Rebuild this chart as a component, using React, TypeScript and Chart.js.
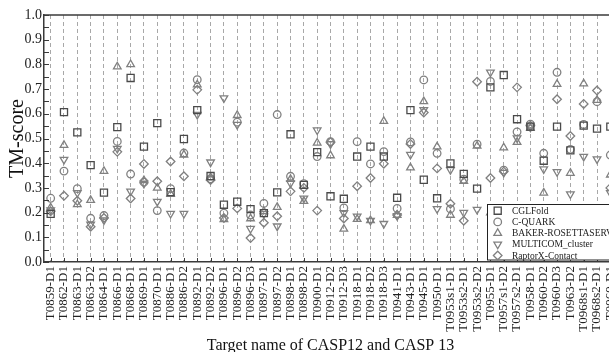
import React, { useEffect, useRef } from 'react';
import { Chart, registerables } from 'chart.js';

Chart.register(...registerables);

const categories = [
  'T0859-D1', 'T0862-D1', 'T0863-D1', 'T0863-D2', 'T0864-D1', 'T0866-D1', 'T0868-D1', 'T0869-D1',
  'T0870-D1', 'T0886-D1', 'T0886-D2', 'T0892-D1', 'T0892-D2', 'T0896-D1', 'T0896-D2', 'T0896-D3',
  'T0897-D1', 'T0897-D2', 'T0898-D1', 'T0898-D2', 'T0900-D1', 'T0912-D2', 'T0912-D3', 'T0918-D1',
  'T0918-D2', 'T0918-D3', 'T0941-D1', 'T0943-D1', 'T0945-D1', 'T0950-D1', 'T0953s1-D1', 'T0953s2-D1',
  'T0953s2-D2', 'T0955-D1', 'T0957s1-D2', 'T0957s2-D1', 'T0958-D1', 'T0960-D2', 'T0960-D3', 'T0963-D2',
  'T0968s1-D1', 'T0968s2-D1', 'T0969-D1',
];

const cglfold = [
  0.195, 0.607, 0.525, 0.392, 0.281, 0.546, 0.745, 0.467, 0.562, 0.283, 0.498, 0.615, 0.348, 0.232, 0.244,
  0.214, 0.198, 0.282, 0.517, 0.312, 0.445, 0.266, 0.256, 0.427, 0.467, 0.427, 0.26, 0.615, 0.333, 0.258,
  0.399, 0.357, 0.297, 0.707, 0.757, 0.578, 0.548, 0.41, 0.548, 0.452, 0.552, 0.54, 0.548,
];
const cquark = [
  0.258, 0.368, 0.297, 0.177, 0.188, 0.488, 0.356, 0.323, 0.208, 0.297, 0.441, 0.738, 0.337, 0.198, 0.566,
  0.19, 0.237, 0.597, 0.347, 0.317, 0.427, 0.487, 0.219, 0.487, 0.397, 0.447, 0.217, 0.486, 0.737, 0.44,
  0.215, 0.335, 0.477, 0.731, 0.372, 0.527, 0.558, 0.44, 0.768, 0.456, 0.557, 0.649, 0.433,
];
const baker = [
  0.22, 0.473, 0.233, 0.25, 0.368, 0.791, 0.8, 0.33, 0.3, 0.275, 0.434, 0.718, 0.342, 0.172, 0.594,
  0.176, 0.205, 0.222, 0.335, 0.246, 0.482, 0.431, 0.134, 0.173, 0.168, 0.57, 0.19, 0.382, 0.65, 0.467,
  0.19, 0.327, 0.47, 0.2, 0.463, 0.485, 0.542, 0.28, 0.72, 0.36, 0.722, 0.655, 0.353,
];
const multicom = [
  0.21, 0.415, 0.28, 0.152, 0.17, 0.459, 0.286, 0.318, 0.245, 0.196, 0.196, 0.597, 0.404, 0.664, 0.556,
  0.135, 0.195, 0.145, 0.319, 0.258, 0.534, 0.478, 0.199, 0.185, 0.168, 0.155, 0.187, 0.435, 0.616, 0.215,
  0.373, 0.2, 0.212, 0.768, 0.362, 0.502, 0.545, 0.376, 0.365, 0.275, 0.427, 0.417, 0.28,
];
const raptorx = [
  0.205, 0.268, 0.248, 0.143, 0.178, 0.446, 0.257, 0.397, 0.327, 0.407, 0.347, 0.697, 0.332, 0.178, 0.217,
  0.097, 0.159, 0.185, 0.286, 0.3, 0.208, 0.485, 0.176, 0.307, 0.34, 0.398, 0.19, 0.478, 0.605, 0.379,
  0.236, 0.167, 0.73, 0.34, 0.366, 0.707, 0.552, 0.2, 0.659, 0.51, 0.64, 0.694, 0.3,
];

const seriesNames = ['CGLFold', 'C-QUARK', 'BAKER-ROSETTASERVER', 'MULTICOM_cluster', 'RaptorX-Contact'];
const yTickLabels = ['0.0', '0.1', '0.2', '0.3', '0.4', '0.5', '0.6', '0.7', '0.8', '0.9', '1.0'];
const xTitle = 'Target name of CASP12 and CASP 13';
const yTitle = 'TM-score';

const SERIF = "'Liberation Serif', 'Times New Roman', serif";
const DARK = '#4a4a4a';
const GRAY = '#808080';

const styles = [
  { style: 'rect', radius: 5, rotation: 0, color: DARK },
  { style: 'circle', radius: 3.8, rotation: 0, color: GRAY },
  { style: 'triangle', radius: 4.4, rotation: 0, color: GRAY },
  { style: 'triangle', radius: 4.4, rotation: 180, color: GRAY },
  { style: 'rectRot', radius: 4.3, rotation: 0, color: GRAY },
];

function drawMarker(ctx: CanvasRenderingContext2D, style: string, x: number, y: number, r: number, rotDeg: number) {
  ctx.beginPath();
  if (style === 'circle') {
    ctx.arc(x, y, r, 0, Math.PI * 2);
  } else if (style === 'rect') {
    const s = Math.SQRT1_2 * r;
    ctx.rect(x - s, y - s, 2 * s, 2 * s);
  } else if (style === 'triangle') {
    let rad = (rotDeg * Math.PI) / 180;
    ctx.moveTo(x + Math.sin(rad) * r, y - Math.cos(rad) * r);
    rad += (2 * Math.PI) / 3;
    ctx.lineTo(x + Math.sin(rad) * r, y - Math.cos(rad) * r);
    rad += (2 * Math.PI) / 3;
    ctx.lineTo(x + Math.sin(rad) * r, y - Math.cos(rad) * r);
    ctx.closePath();
  } else if (style === 'rectRot') {
    ctx.moveTo(x - r, y);
    ctx.lineTo(x, y - r);
    ctx.lineTo(x + r, y);
    ctx.lineTo(x, y + r);
    ctx.closePath();
  }
  ctx.stroke();
}

const framePlugin = {
  id: 'frameAndLegend',
  afterDatasetsDraw(chart: any) {
    const { ctx, chartArea } = chart;
    const { left, right, top, bottom } = chartArea;
    const x = chart.scales.x;
    const y = chart.scales.y;
    ctx.save();
    // top frame line
    ctx.strokeStyle = '#3a3a3a';
    ctx.lineWidth = 1.5;
    ctx.beginPath();
    ctx.moveTo(left, top);
    ctx.lineTo(right, top);
    ctx.stroke();
    // inward ticks
    ctx.lineWidth = 1;
    ctx.strokeStyle = '#3a3a3a';
    ctx.beginPath();
    for (let k = 0; k <= 20; k++) {
      const py = Math.round(y.getPixelForValue(k * 0.05)) + 0.5;
      ctx.moveTo(left, py);
      ctx.lineTo(left + 5, py);
    }
    for (let i = 0; i < categories.length; i++) {
      const px = Math.round(x.getPixelForValue(i)) + 0.5;
      ctx.moveTo(px, bottom);
      ctx.lineTo(px, bottom - 4);
    }
    ctx.stroke();

    // legend box inside plot, bottom-right
    const bx = 487.5;
    const by = 204.5;
    const bw = right + 20 - bx;
    const bh = bottom - 2 - by;
    ctx.fillStyle = '#ffffff';
    ctx.fillRect(bx, by, bw, bh);
    ctx.strokeStyle = '#222';
    ctx.lineWidth = 1;
    ctx.strokeRect(bx, by, bw, bh);
    ctx.font = `9.5px ${SERIF}`;
    ctx.textBaseline = 'middle';
    ctx.textAlign = 'left';
    for (let k = 0; k < seriesNames.length; k++) {
      const cy = by + 6.2 + k * 11.2;
      const st = styles[k];
      ctx.strokeStyle = st.color;
      ctx.lineWidth = 1.3;
      drawMarker(ctx, st.style, 497.7, cy, st.radius, st.rotation);
      ctx.fillStyle = '#222';
      ctx.fillText(seriesNames[k], 512, cy + 0.5);
    }
    ctx.restore();
  },
};

export default function App() {
  const ref = useRef<HTMLCanvasElement | null>(null);

  useEffect(() => {
    if (!ref.current) return;
    const seriesData = [cglfold, cquark, baker, multicom, raptorx];
    const datasets = seriesNames.map((name, k) => ({
      label: name,
      data: seriesData[k],
      showLine: false,
      pointStyle: styles[k].style as any,
      pointRadius: styles[k].radius,
      pointHoverRadius: styles[k].radius,
      pointRotation: styles[k].rotation,
      pointBorderColor: styles[k].color,
      pointBackgroundColor: 'rgba(0,0,0,0)',
      pointBorderWidth: 1.3,
      borderColor: styles[k].color,
      backgroundColor: 'rgba(0,0,0,0)',
    }));

    const chart = new Chart(ref.current, {
      type: 'line',
      data: { labels: categories, datasets },
      options: {
        responsive: false,
        animation: false,
        devicePixelRatio: 1,
        layout: { padding: { top: 15, left: 0, right: 23, bottom: 0 } },
        plugins: { legend: { display: false }, tooltip: { enabled: false } },
        scales: {
          x: {
            type: 'category',
            offset: true,
            grid: { display: true, offset: false, color: '#a8a8a8', lineWidth: 1, drawTicks: false },
            border: { display: true, color: '#3a3a3a', width: 1.5, dash: [4, 3] },
            ticks: {
              autoSkip: false,
              minRotation: 90,
              maxRotation: 90,
              padding: 4,
              color: '#222',
              font: { family: SERIF, size: 13 },
            },
            title: {
              display: true,
              text: xTitle,
              color: '#111',
              font: { family: SERIF, size: 16 },
              padding: { top: 0, bottom: 5 },
            },
            afterFit(scale: any) {
              scale.height = 98;
            },
          },
          y: {
            min: 0,
            max: 1,
            grid: { display: false, drawTicks: false },
            border: { display: true, color: '#3a3a3a', width: 1.5 },
            ticks: {
              stepSize: 0.1,
              padding: 2,
              color: '#222',
              font: { family: SERIF, size: 14 },
              callback: (_v: any, i: number) => yTickLabels[i],
            },
            title: {
              display: true,
              text: yTitle,
              color: '#111',
              font: { family: SERIF, size: 20 },
              padding: { top: 6, bottom: 0 },
            },
            afterFit(scale: any) {
              scale.width = 44;
            },
          },
        },
      },
      plugins: [framePlugin],
    });
    return () => chart.destroy();
  }, []);

  return (
    <div
      style={{
        position: 'fixed',
        left: 0,
        top: 0,
        width: 609,
        height: 352,
        overflow: 'hidden',
        background: '#fff',
      }}
    >
      <canvas ref={ref} width={640} height={360} style={{ display: 'block', width: 640, height: 360 }} />
    </div>
  );
}
